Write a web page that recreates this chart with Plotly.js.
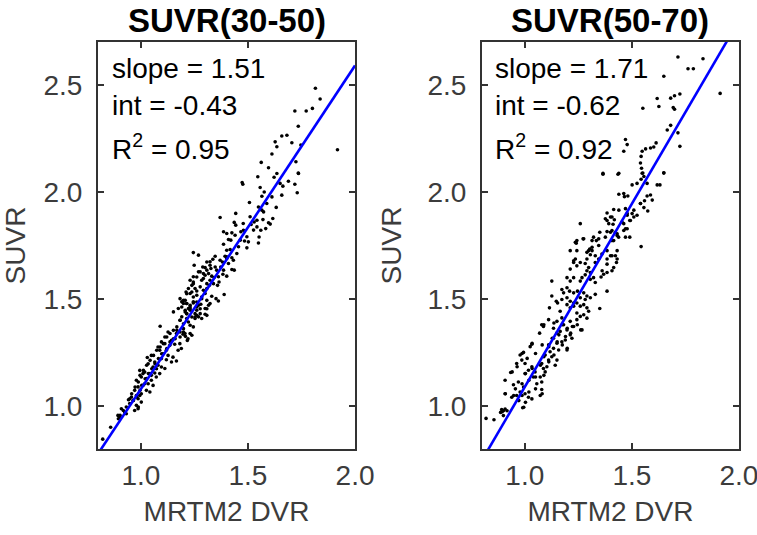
<!DOCTYPE html>
<html>
<head>
<meta charset="utf-8">
<script src="https://cdn.plot.ly/plotly-3.0.1.min.js"></script>
<style>
  html, body { margin: 0; padding: 0; background: #fff; }
  #chart { width: 757px; height: 535px; }
</style>
</head>
<body>
<div id="chart"></div>
<script>
// panel titles and fit stats
const panelTitles = ['SUVR(30-50)', 'SUVR(50-70)'];
const fitSlope = [1.51, 1.71];
const fitInt = [-0.43, -0.62];
const fitR2 = [0.95, 0.92];

const xTicks = [1.0, 1.5, 2.0];
const xTickText = ['1.0', '1.5', '2.0'];
const yTicks = [1.0, 1.5, 2.0, 2.5];
const yTickText = ['1.0', '1.5', '2.0', '2.5'];
const xRange = [0.8, 2.0];
const yRange = [0.8, 2.7];

// SUVR(30-50) vs MRTM2 DVR
const dvr3050 = [
  1.815,1.837,1.801,1.772,1.719,1.735,1.658,1.682,1.705,1.627,1.635,1.918,1.612,1.747,1.562,1.596,1.724,1.735,1.546,1.622,
  1.736,1.689,1.719,1.730,1.663,1.658,1.473,1.476,1.557,1.576,1.565,1.507,1.549,1.565,1.573,1.632,1.443,1.370,1.529,1.542,
  1.570,1.616,1.596,1.604,1.436,1.443,1.478,1.515,1.542,1.560,1.583,1.467,1.479,1.386,1.401,1.425,1.552,1.464,1.484,1.502,
  1.409,1.420,1.549,1.386,1.495,1.401,1.417,1.347,1.336,1.245,1.269,1.393,1.401,1.425,1.308,1.323,1.381,1.373,1.249,1.289,
  1.300,1.327,1.354,1.425,1.436,1.269,1.292,1.316,1.331,1.342,1.383,1.401,1.292,1.230,1.245,1.238,1.308,1.320,1.365,1.358,
  1.277,1.253,1.261,1.292,1.300,1.222,1.211,1.230,1.389,1.331,1.351,1.362,1.183,1.207,1.214,1.245,1.261,1.280,1.308,1.316,
  1.191,1.222,1.207,1.152,1.261,1.277,1.300,1.238,1.253,
  1.127,1.166,1.197,1.208,1.220,1.096,1.112,1.135,1.158,1.182,1.189,1.174,1.088,1.104,1.127,1.150,1.119,1.143,1.166,1.030,
  1.065,1.080,1.057,1.096,1.112,0.995,1.018,1.042,1.065,1.088,1.002,1.026,1.049,1.072,1.034,1.057,1.010,0.987,1.026,1.002,
  1.042,0.979,0.948,0.964,0.987,1.002,0.979,0.987,0.948,0.909,0.925,0.893,0.901,0.932,0.859,0.822,1.308,1.090,1.217,1.230,1.199,
  1.191,1.214,1.230,1.245,1.261,1.277,1.230,1.207,1.253,1.269,1.214,1.183,1.199,1.230,1.168,1.152,1.183,1.136,1.121,1.160,
  1.136,1.105,1.090,1.121,1.074,1.097,1.059,1.082,1.043,1.066,1.027,1.051,1.012,1.035,0.996,1.020,0.988,1.004,0.973,0.996,
  0.957,0.981,0.965,0.942,0.988,0.918,0.903,0.895,
  1.199,1.230,1.175,1.214,1.261,1.284,1.191,1.300,1.323,1.284,1.308,1.339,1.245,1.323,1.362,1.386,1.409,1.432,1.448,1.456,
  1.440,1.495,1.526,1.510,1.588,1.612,1.650,1.635,
  1.238,1.214,1.261,1.284,1.199,1.245,1.269,1.308,1.230,1.214,1.253,1.183,1.222,1.245,1.199,1.168,1.206,1.183,1.152,1.238,
  1.308,1.277,1.300,1.261,1.284,1.245,1.347,1.323,1.370,1.401,
  1.112,1.143,1.080,1.119,1.049,1.096,1.034,1.073,1.010,1.049,0.979,1.018,0.971,0.995,0.956,0.932,0.971
];
const suvr3050 = [
  2.484,2.434,2.390,2.378,2.378,2.307,2.261,2.265,2.230,2.234,2.211,2.197,2.177,2.219,2.138,2.113,2.141,2.088,2.071,2.069,
  2.086,2.050,2.036,1.996,2.027,1.985,2.044,2.036,2.021,2.000,1.980,1.951,1.930,1.915,1.907,1.928,1.900,1.881,1.860,1.868,
  1.871,1.876,1.856,1.850,1.858,1.845,1.853,1.848,1.837,1.821,1.829,1.814,1.821,1.814,1.806,1.809,1.790,1.775,1.771,1.767,
  1.778,1.775,1.762,1.756,1.739,1.728,1.731,1.700,1.686,1.717,1.705,1.700,1.689,1.693,1.673,1.658,1.673,1.650,1.658,1.650,
  1.647,1.643,1.635,1.638,1.635,1.627,1.619,1.619,1.607,1.601,1.616,1.607,1.596,1.588,1.572,1.564,1.572,1.564,1.580,1.564,
  1.557,1.549,1.538,1.541,1.526,1.549,1.533,1.526,1.521,1.513,1.502,1.491,1.502,1.494,1.479,1.510,1.486,1.476,1.494,1.471,
  1.463,1.456,1.448,1.440,1.448,1.432,1.429,1.416,1.409,
  1.346,1.339,1.336,1.326,1.315,1.300,1.292,1.284,1.289,1.292,1.269,1.261,1.261,1.245,1.237,1.229,1.217,1.206,1.211,1.227,
  1.206,1.191,1.183,1.183,1.176,1.167,1.159,1.152,1.155,1.152,1.136,1.129,1.121,1.136,1.105,1.097,1.097,1.090,1.074,1.058,
  1.066,1.050,1.035,1.027,1.035,1.019,1.004,0.988,1.012,0.988,0.972,0.957,0.949,0.965,0.902,0.846,1.424,1.373,1.307,1.339,1.346,
  1.487,1.479,1.471,1.482,1.463,1.455,1.448,1.440,1.432,1.417,1.409,1.401,1.385,1.378,1.370,1.354,1.346,1.339,1.323,1.315,
  1.300,1.292,1.276,1.269,1.261,1.245,1.237,1.222,1.214,1.198,1.191,1.175,1.167,1.152,1.144,1.128,1.113,1.097,1.089,1.074,
  1.058,1.043,1.027,1.030,0.996,0.980,0.957,0.941,
  1.479,1.463,1.456,1.432,1.424,1.409,1.417,1.456,1.479,1.510,1.549,1.572,1.604,1.588,1.604,1.635,1.666,1.681,1.713,1.744,
  1.798,1.791,1.822,1.884,1.946,1.977,2.040,2.086,
  1.533,1.525,1.518,1.502,1.494,1.487,1.471,1.455,1.455,1.432,1.416,1.401,1.393,1.370,1.362,1.354,1.339,1.323,1.315,1.331,
  1.635,1.627,1.611,1.603,1.588,1.580,1.650,1.674,1.681,1.697,
  1.323,1.307,1.276,1.261,1.237,1.222,1.198,1.175,1.152,1.144,1.121,1.105,1.074,1.050,1.043,0.996,0.980
];

// SUVR(50-70) vs MRTM2 DVR
const dvr5070 = [
  1.715,1.832,1.762,1.787,1.649,1.912,1.618,1.681,1.699,1.724,1.551,1.626,1.693,1.699,1.681,1.665,1.715,1.724,1.470,1.478,
  1.462,1.548,1.564,1.587,1.602,1.543,1.540,1.545,1.548,1.365,1.439,1.649,1.613,
  1.365,1.435,1.551,1.556,1.543,1.649,1.571,1.618,1.631,1.501,1.524,1.439,1.462,1.481,1.465,1.571,1.587,1.595,1.559,1.540,
  1.556,1.574,1.470,1.415,1.384,1.376,1.400,1.418,1.392,1.412,1.478,1.501,1.509,1.490,1.462,1.470,1.259,1.350,1.384,1.407,
  1.423,1.431,1.407,1.438,1.478,1.490,1.321,1.334,1.314,1.345,1.243,1.240,1.272,1.543,1.303,1.290,1.306,1.314,1.212,
  1.345,1.329,1.384,1.400,1.423,1.431,1.428,1.384,1.236,1.228,1.243,
  1.282,1.298,1.290,1.306,1.282,1.267,1.259,1.306,1.321,1.329,1.361,1.368,1.356,1.384,1.415,1.407,1.212,1.228,1.212,1.197,
  1.126,1.173,1.197,1.209,1.181,1.228,1.246,1.275,1.290,1.282,1.259,1.306,1.329,1.384,1.126,1.147,1.173,1.197,1.212,1.228,
  1.115,1.153,1.197,1.212,1.228,1.243,1.259,1.275,1.290,1.298,1.275,1.259,1.290,1.243,1.350,
  1.165,1.173,1.150,1.181,1.212,1.228,1.243,1.267,
  1.079,1.087,1.111,1.134,1.150,1.165,1.197,1.212,1.220,1.189,1.173,1.134,1.150,1.069,1.033,1.025,
  1.111,1.134,1.158,1.197,1.118,1.095,1.126,1.150,1.142,1.111,1.103,1.079,1.087,
  0.978,0.994,0.986,0.962,1.001,1.033,1.048,1.017,1.001,1.040,1.072,1.056,1.079,1.095,
  0.934,0.908,0.947,0.970,0.994,0.978,0.962,0.939,1.001,1.017,1.033,1.072,1.079,0.908,0.990,
  0.892,0.900,0.908,0.887,0.900,0.819,0.856,
  1.089,1.136,1.175,1.198,1.222,1.245,1.261,1.214,1.190,1.159,1.128,1.151,1.175,1.198,1.112,1.081,1.034,0.987,1.011,1.050,
  1.089,1.112,1.136,1.073,1.034,1.003,0.964,0.941,1.050,1.089,1.019,0.987,0.956,0.909,0.948,0.987,1.019,1.050,1.081,0.972,
  1.003,0.917,0.894,0.995,
  1.236,1.275,1.243,1.298,1.314,1.345,1.228,1.259,1.290,1.329,1.360,1.384,1.407,1.431,1.415,1.376,1.400,1.431,1.462,1.384,
  1.407,1.439,1.454,1.478,1.509,1.540,1.524,1.493,1.470
];
const suvr5070 = [
  2.630,2.622,2.575,2.575,2.540,2.460,2.436,2.438,2.449,2.457,2.391,2.399,2.394,2.386,2.311,2.289,2.276,2.213,2.245,2.221,
  2.190,2.190,2.201,2.205,2.210,2.166,2.135,2.111,2.087,2.087,2.087,2.090,2.229,
  2.083,2.083,2.088,2.072,2.059,2.088,2.040,2.033,2.033,2.033,2.040,1.989,1.993,1.981,1.978,1.981,1.986,1.962,1.959,1.946,
  1.927,1.911,1.922,1.918,1.902,1.875,1.883,1.870,1.852,1.849,1.891,1.899,1.883,1.867,1.852,1.828,1.852,1.812,1.815,1.820,
  1.812,1.797,1.773,1.789,1.828,1.789,1.789,1.773,1.773,1.781,1.773,1.761,1.781,1.745,1.734,1.718,1.707,1.726,1.726,
  1.687,1.671,1.687,1.702,1.702,1.687,1.671,1.663,1.687,1.671,1.655,
  1.666,1.647,1.632,1.624,1.613,1.600,1.584,1.592,1.600,1.577,1.632,1.616,1.603,1.624,1.647,1.632,1.640,1.600,1.584,1.600,
  1.584,1.545,1.553,1.537,1.529,1.529,1.537,1.529,1.514,1.498,1.506,1.506,1.522,1.537,1.514,1.490,1.498,1.506,1.490,1.482,
  1.459,1.482,1.474,1.459,1.467,1.482,1.467,1.474,1.459,1.443,1.427,1.419,1.411,1.435,1.456,
  1.443,1.412,1.396,1.380,1.396,1.372,1.404,1.356,
  1.380,1.372,1.404,1.364,1.341,1.349,1.356,1.333,1.317,1.309,1.301,1.317,1.294,1.341,1.289,1.278,
  1.286,1.270,1.262,1.262,1.254,1.239,1.231,1.215,1.191,1.215,1.184,1.199,1.176,
  1.239,1.251,1.215,1.199,1.199,1.184,1.160,1.168,1.152,1.136,1.136,1.105,1.113,1.160,
  1.157,1.121,1.100,1.113,1.089,1.066,1.050,1.042,1.058,1.042,1.034,1.050,1.078,1.058,0.993,
  0.984,0.979,0.987,0.971,0.956,0.943,0.937,
  1.380,1.388,1.380,1.364,1.372,1.380,1.356,1.341,1.325,1.333,1.317,1.301,1.286,1.270,1.278,1.286,1.294,1.246,1.223,1.246,
  1.231,1.207,1.239,1.191,1.176,1.152,1.184,1.160,1.136,1.144,1.121,1.105,1.081,1.058,1.050,1.050,1.066,1.081,1.058,1.026,
  1.018,0.979,0.974,0.995,
  1.765,1.781,1.726,1.726,1.742,1.750,1.679,1.671,1.687,1.702,1.710,1.726,1.702,1.726,1.773,1.789,1.812,1.805,1.820,1.867,
  1.883,1.915,1.860,1.899,1.915,1.946,1.891,1.867,1.789
];

const FONT = 'Liberation Sans, Arial, Helvetica, sans-serif';
const TEXT_GRAY = '#3c3c3c';
const AXIS_GRAY = '#333333';

const xDomains = [[0.1295, 0.4690], [0.6367, 0.9762]];
const yDomain = [0.1607, 0.9215];

const seriesX = [dvr3050, dvr5070];
const seriesY = [suvr3050, suvr5070];

const data = [];
const annotations = [];
const layout = {
    width: 757, height: 535,
    margin: { l: 0, r: 0, t: 0, b: 0 },
    paper_bgcolor: '#ffffff',
    plot_bgcolor: '#ffffff',
    showlegend: false,
    font: { family: FONT, color: TEXT_GRAY },
    annotations: annotations,
};

for (let i = 0; i < 2; i++) {
    const xa = i === 0 ? 'x' : 'x2';
    const ya = i === 0 ? 'y' : 'y2';

    data.push({
        x: seriesX[i], y: seriesY[i], type: 'scatter', mode: 'markers',
        xaxis: xa, yaxis: ya,
        marker: { size: 3.6, color: '#000000' },
        hoverinfo: 'skip',
    });

    // fit line from slope / intercept
    data.push({
        x: xRange, y: xRange.map(v => fitSlope[i] * v + fitInt[i]),
        type: 'scatter', mode: 'lines', xaxis: xa, yaxis: ya,
        line: { color: '#0000ff', width: 2.6 },
        hoverinfo: 'skip',
    });

    const axisCommon = {
        showline: true, linewidth: 2, linecolor: AXIS_GRAY, mirror: 'ticks',
        ticks: 'inside', ticklen: 6, tickwidth: 1.5, tickcolor: AXIS_GRAY,
        showgrid: false, zeroline: false, automargin: false,
        ticklabeloverflow: 'allow',
        tickfont: { family: FONT, size: 28, color: TEXT_GRAY },
    };

    layout[i === 0 ? 'xaxis' : 'xaxis2'] = Object.assign({}, axisCommon, {
        domain: xDomains[i], range: xRange, anchor: ya,
        tickvals: xTicks, ticktext: xTickText,
        ticklabelstandoff: 0,
        title: { text: 'MRTM2 DVR', font: { family: FONT, size: 28, color: TEXT_GRAY }, standoff: 12 },
    });
    layout[i === 0 ? 'yaxis' : 'yaxis2'] = Object.assign({}, axisCommon, {
        domain: yDomain, range: yRange, anchor: xa,
        tickvals: yTicks, ticktext: yTickText,
        ticklabelstandoff: 8,
        title: { text: 'SUVR', font: { family: FONT, size: 28, color: TEXT_GRAY }, standoff: 18 },
    });

    const xd = i === 0 ? 'x domain' : 'x2 domain';
    const yd = i === 0 ? 'y domain' : 'y2 domain';

    annotations.push({
        text: '<b>' + panelTitles[i] + '</b>',
        xref: 'paper', yref: 'paper',
        x: (xDomains[i][0] + xDomains[i][1]) / 2, y: 1,
        xanchor: 'center', yanchor: 'top', showarrow: false,
        font: { family: FONT, size: 33, color: '#000000' },
    });

    const statLines = [
        'slope = ' + fitSlope[i].toFixed(2),
        'int = ' + fitInt[i].toFixed(2),
        'R<sup>2</sup> = ' + fitR2[i].toFixed(2),
    ];
    const statY = [0.936, 0.845, 0.741];
    const statX = i === 0 ? 0.047 : 0.042;
    statLines.forEach((t, k) => {
        annotations.push({
            text: t, xref: xd, yref: yd, x: statX, y: statY[k],
            xanchor: 'left', yanchor: 'middle', showarrow: false,
            font: { family: FONT, size: 28, color: '#000000' },
        });
    });
}

Plotly.newPlot('chart', data, layout, { displayModeBar: false, staticPlot: true });
</script>
</body>
</html>
